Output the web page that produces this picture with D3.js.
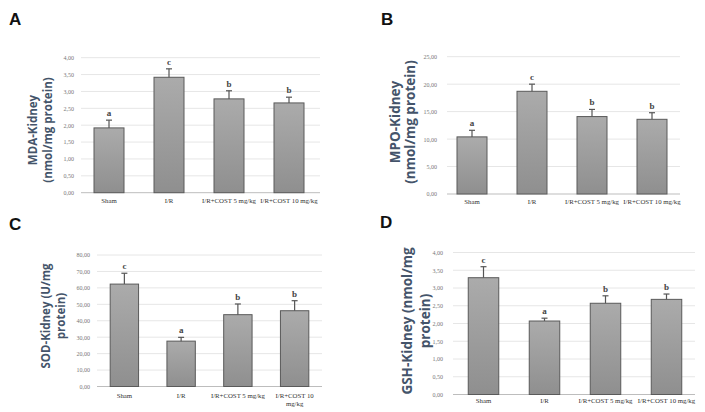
<!DOCTYPE html>
<html><head><meta charset="utf-8">
<script src="https://cdn.jsdelivr.net/npm/d3@7"></script>
<style>body{margin:0;background:#fff}svg{display:block}</style>
</head><body>
<svg id="chart" width="705" height="412"></svg>
<script>
const categories = ["Sham", "I/R", "I/R+COST 5 mg/kg", "I/R+COST 10 mg/kg"];
const categoriesC = [["Sham"], ["I/R"], ["I/R+COST 5 mg/kg"], ["I/R+COST 10", "mg/kg"]];

const mdaValues = [1.92, 3.42, 2.78, 2.66];
const mdaErrors = [0.23, 0.25, 0.24, 0.17];
const mdaLetters = ["a", "c", "b", "b"];
const mdaTicks = [0, 0.5, 1, 1.5, 2, 2.5, 3, 3.5, 4];

const mpoValues = [10.4, 18.7, 14.1, 13.6];
const mpoErrors = [1.2, 1.3, 1.3, 1.2];
const mpoLetters = ["a", "c", "b", "b"];
const mpoTicks = [0, 5, 10, 15, 20, 25];

const sodValues = [62.3, 27.6, 43.7, 46.1];
const sodErrors = [6.6, 2.3, 6.5, 6.1];
const sodLetters = ["c", "a", "b", "b"];
const sodTicks = [0, 10, 20, 30, 40, 50, 60, 70, 80];

const gshValues = [3.29, 2.07, 2.57, 2.68];
const gshErrors = [0.31, 0.08, 0.21, 0.15];
const gshLetters = ["c", "a", "b", "b"];
const gshTicks = [0, 0.5, 1, 1.5, 2, 2.5, 3, 3.5, 4];

const svg = d3.select("#chart");
const defs = svg.append("defs");
const grad = defs.append("linearGradient").attr("id","barGrad").attr("x1",0).attr("y1",0).attr("x2",0).attr("y2",1);
grad.append("stop").attr("offset","0%").attr("stop-color","#ababab");
grad.append("stop").attr("offset","100%").attr("stop-color","#8f8f8f");

const fmt = v => d3.format(".2f")(v).replace(".", ",");

const panels = [
  {label:"A", lx:9, ly:25, values:mdaValues, errors:mdaErrors, letters:mdaLetters, ticks:mdaTicks,
   xr:[79,319], y0:192.7, y1:57.7, tickX:74, gridX:[81,320], xlabY:203, xcats:categories.map(c=>[c]),
   title:["MDA-Kidney","(nmol/mg protein)"], tx:[32,47], ty:130, tfs:11.5},
  {label:"B", lx:381, ly:25, values:mpoValues, errors:mpoErrors, letters:mpoLetters, ticks:mpoTicks,
   xr:[442,682], y0:194, y1:56.7, tickX:437, gridX:[447,680], xlabY:204, xcats:categories.map(c=>[c]),
   title:["MPO-Kidney","(nmol/mg protein)"], tx:[395,410], ty:122, tfs:13.5},
  {label:"C", lx:9, ly:230, values:sodValues, errors:sodErrors, letters:sodLetters, ticks:sodTicks,
   xr:[96,323], y0:386.5, y1:255, tickX:90, gridX:[97,322], xlabY:398, xcats:categoriesC,
   title:["SOD-Kidney (U/mg","protein)"], tx:[45,60], ty:316, tfs:11.5},
  {label:"D", lx:380, ly:228, values:gshValues, errors:gshErrors, letters:gshLetters, ticks:gshTicks,
   xr:[453,697], y0:394.5, y1:252.5, tickX:443, gridX:[453,695], xlabY:403, xcats:categories.map(c=>[c]),
   title:["GSH-Kidney (nmol/mg","protein)"], tx:[407,425], ty:321, tfs:13.5}
];

panels.forEach(p => {
  const g = svg.append("g");
  const x = d3.scaleBand().domain(categories).range(p.xr).paddingInner(0.5).paddingOuter(0.25);
  const y = d3.scaleLinear().domain([0, d3.max(p.ticks)]).range([p.y0, p.y1]);

  g.append("text").attr("x", p.lx).attr("y", p.ly).text(p.label)
    .attr("font-family","Liberation Sans, Arial, sans-serif").attr("font-weight","bold")
    .attr("font-size",17).attr("fill","#111");

  // gridlines
  g.selectAll(".grid").data(p.ticks).join("line")
    .attr("x1", p.gridX[0]).attr("x2", p.gridX[1])
    .attr("y1", d => y(d)).attr("y2", d => y(d))
    .attr("stroke", d => d === 0 ? "#bdbdbd" : "#e6e6e6").attr("stroke-width", 1);

  // y axis labels via d3 axis
  const ax = g.append("g").attr("transform", `translate(${p.tickX + 3},0)`)
    .call(d3.axisLeft(y).tickValues(p.ticks).tickFormat(fmt).tickSize(0).tickPadding(3));
  ax.select(".domain").remove();
  ax.selectAll("text").attr("font-family","Liberation Serif, serif").attr("font-size",6)
    .attr("fill","#777");

  // bars
  g.selectAll(".bar").data(p.values).join("rect")
    .attr("x", (d,i) => x(categories[i])).attr("width", x.bandwidth())
    .attr("y", d => y(d)).attr("height", d => p.y0 - y(d))
    .attr("fill","url(#barGrad)").attr("stroke","#5a5a5a").attr("stroke-width",1);

  // error bars
  p.values.forEach((v,i) => {
    const cx = x(categories[i]) + x.bandwidth()/2;
    const top = y(v + p.errors[i]);
    g.append("line").attr("x1",cx).attr("x2",cx).attr("y1",y(v)).attr("y2",top)
      .attr("stroke","#555").attr("stroke-width",1.2);
    g.append("line").attr("x1",cx-3).attr("x2",cx+3).attr("y1",top).attr("y2",top)
      .attr("stroke","#555").attr("stroke-width",1.2);
    g.append("text").attr("x",cx).attr("y",top-4).attr("text-anchor","middle")
      .attr("font-family","Liberation Serif, serif").attr("font-weight","bold")
      .attr("font-size",9).attr("fill","#444").text(p.letters[i]);
    // x labels
    const t = g.append("text").attr("x",cx).attr("y",p.xlabY).attr("text-anchor","middle")
      .attr("font-family","Liberation Serif, serif").attr("font-size",6.8).attr("fill","#333");
    p.xcats[i].forEach((line,k) => {
      t.append("tspan").attr("x",cx).attr("dy", k === 0 ? 0 : 8).text(line);
    });
  });

  // y title
  p.title.forEach((line,k) => {
    g.append("text").attr("transform",`translate(${p.tx[k]},${p.ty}) rotate(-90)`)
      .attr("text-anchor","middle").attr("dominant-baseline","central")
      .attr("font-family","Open Sans, sans-serif").attr("font-weight","bold")
      .attr("font-size",p.tfs).attr("fill","#44546a").text(line);
  });
});
</script>
</body></html>
